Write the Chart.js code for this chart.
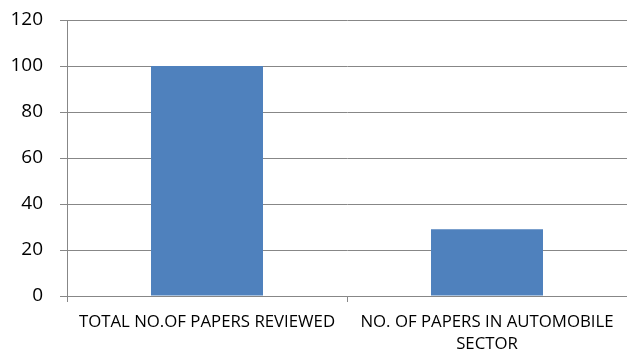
<!DOCTYPE html>
<html>
<head>
<meta charset="utf-8">
<script src="https://cdn.jsdelivr.net/npm/chart.js@4.4.0/dist/chart.umd.min.js"></script>
<style>
  html, body { margin: 0; padding: 0; background: #fff; }
  #grafico { display: block; }
</style>
</head>
<body>
<canvas id="grafico" width="627" height="350"></canvas>
<script>
// categorias y valores de la grafica
var categorias = [
    'TOTAL NO.OF PAPERS REVIEWED',
    ['NO. OF PAPERS IN AUTOMOBILE', 'SECTOR']
];
var papers = [100, 29];
var ejeY = { min: 0, max: 120, paso: 20 };

var gris = '#878787';

var Datos = {
    labels: categorias,
    datasets: [{
        label: 'Papers',
        backgroundColor: '#4F81BD',
        data: papers,
        barPercentage: 0.4,
        categoryPercentage: 1.0
    }]
};

var contexto = document.getElementById('grafico').getContext('2d');
var myChart = new Chart(contexto, {
    type: 'bar',
    data: Datos,
    options: {
        responsive: false,
        animation: false,
        layout: { padding: { top: 20, right: 0, left: 0, bottom: 0 } },
        plugins: {
            legend: { display: false },
            tooltip: { enabled: false }
        },
        scales: {
            x: {
                afterFit: function (scale) { scale.height = 54; },
                grid: {
                    offset: true,
                    drawOnChartArea: false,
                    drawTicks: true,
                    tickLength: 6,
                    color: gris
                },
                border: { display: true, color: gris, width: 1 },
                ticks: {
                    color: '#000',
                    padding: 9,
                    maxRotation: 0,
                    autoSkip: false,
                    font: { family: 'Open Sans', size: 16.8, lineHeight: 1.3 }
                }
            },
            y: {
                min: ejeY.min,
                max: ejeY.max,
                afterFit: function (scale) {
                    scale.width = 67;
                    scale.paddingTop = 0;
                    scale.paddingBottom = 0;
                },
                grid: {
                    color: gris,
                    tickLength: 7,
                    lineWidth: 1
                },
                border: { display: true, color: gris, width: 1 },
                ticks: {
                    stepSize: ejeY.paso,
                    color: '#000',
                    padding: 17,
                    font: { family: 'Open Sans', size: 19 }
                }
            }
        }
    }
});
</script>
</body>
</html>
